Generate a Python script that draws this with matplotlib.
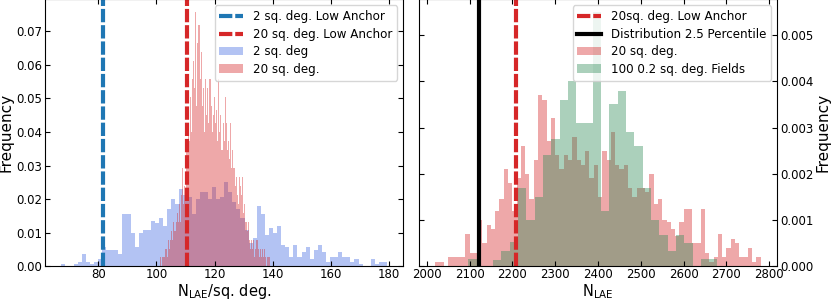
import numpy as np
import matplotlib
matplotlib.use("Agg")
import matplotlib.pyplot as plt

# ---- left panel: N_LAE per sq. deg. ----
# 2 sq. deg (80 bins over blue_range)
blue_range = (67.3, 179.3)
blue_freq = [0.0007, 0, 0, 0.0007, 0.0014, 0.0036, 0.0014, 0.0007, 0.0014, 0.0021,
             0.0057, 0.0050, 0.0050, 0.0050, 0.0036, 0.0157, 0.0157, 0.0100, 0.0057, 0.0100,
             0.0107, 0.0107, 0.0136, 0.0129, 0.0143, 0.0121, 0.0171, 0.0200, 0.0186, 0.0229,
             0.0214, 0.0207, 0.0157, 0.0200, 0.0221, 0.0221, 0.0200, 0.0236, 0.0200, 0.0207,
             0.0250, 0.0221, 0.0193, 0.0171, 0.0143, 0.0107, 0.0071, 0.0086, 0.0179, 0.0157,
             0.0093, 0.0114, 0.0100, 0.0121, 0.0064, 0.0057, 0.0029, 0.0064, 0.0029, 0.0043,
             0.0057, 0.0021, 0.0050, 0.0064, 0.0043, 0.0014, 0.0029, 0.0029, 0.0043, 0.0029,
             0.0029, 0.0014, 0.0021, 0.0007, 0, 0, 0.0021, 0.0007, 0.0014, 0.0014]
# 20 sq. deg. (100 bins over red_range)
red_range = (101.3, 138.9)
red_freq = [0.0027, 0, 0.0027, 0.0027, 0.0053, 0.0053, 0.0027, 0.0080, 0.0053, 0.0080,
            0.0106, 0.0080, 0.0133, 0.0106, 0.0133, 0.0160, 0.0133, 0.0186, 0.0133, 0.0213,
            0.0293, 0.0186, 0.0240, 0.0213, 0.0346, 0.0420, 0.0373, 0.0505, 0.0399, 0.0559,
            0.0612, 0.0532, 0.0758, 0.0479, 0.0665, 0.0718, 0.0559, 0.0639, 0.0479, 0.0532,
            0.0399, 0.0559, 0.0452, 0.0532, 0.0426, 0.0559, 0.0479, 0.0399, 0.0452, 0.0505,
            0.0426, 0.0465, 0.0372, 0.0559, 0.0399, 0.0452, 0.0346, 0.0426, 0.0372, 0.0505,
            0.0426, 0.0346, 0.0372, 0.0319, 0.0426, 0.0293, 0.0346, 0.0293, 0.0240, 0.0266,
            0.0213, 0.0186, 0.0266, 0.0240, 0.0213, 0.0266, 0.0160, 0.0186, 0.0133, 0.0106,
            0.0133, 0.0080, 0.0053, 0.0080, 0.0053, 0.0080, 0.0027, 0.0053, 0.0080, 0.0053,
            0.0027, 0.0053, 0.0027, 0.0053, 0.0027, 0.0053, 0.0027, 0, 0.0027, 0.0027]
anchor_2 = 81.5
anchor_20 = 110.5

# ---- right panel: total N_LAE ----
# 20 sq. deg. (76 bins)
tot_range = (2020, 2780)
tot_freq = [0.0001, 0.0001, 0, 0.0002, 0.0002, 0.0002, 0.0002, 0.0007, 0.0003, 0.0003,
            0.0010, 0.0005, 0.0009, 0.0008, 0.0012, 0.00145, 0.0021, 0.0018, 0.0012, 0.0019,
            0.0026, 0.0020, 0.00145, 0.0023, 0.0037, 0.0036, 0.0027, 0.0032, 0.0024, 0.0021,
            0.0024, 0.0023, 0.0028, 0.0023, 0.0022, 0.0025, 0.0019, 0.0022, 0.0015, 0.0025,
            0.0023, 0.0029, 0.0022, 0.0021, 0.0022, 0.0017, 0.0015, 0.0017, 0.0017, 0.0016,
            0.0020, 0.00135, 0.00145, 0.0010, 0.00095, 0.0008, 0.00065, 0.00095, 0.00125, 0.00125,
            0.0005, 0.0005, 0.00125, 0.0003, 0.0001, 0.0002, 0.0007, 0.0002, 0.0004, 0.0006,
            0.0005, 0.0002, 0.0002, 0.0004, 0.0001, 0.0002]
# 100 0.2 sq. deg. fields (30 bins)
fld_range = (2097, 2679)
fld_freq = [0.00017, 0, 0, 0.00014, 0.00034, 0.00052, 0.0017, 0.0010, 0.0015, 0.0024,
            0.00275, 0.0036, 0.0040, 0.0031, 0.0031, 0.0055, 0.0012, 0.0035, 0.0038, 0.0029,
            0.0026, 0.0017, 0.0010, 0.00068, 0.00034, 0.00068, 0.0005, 0, 0.00017, 0.00017]
anchor_tot = 2208
pct_2p5 = 2122


def draw_hist(ax, rng, freq, **kw):
    edges = np.linspace(rng[0], rng[1], len(freq) + 1)
    mids = 0.5 * (edges[1:] + edges[:-1])
    return ax.hist(mids, bins=edges, weights=freq, **kw)[2][0]


fig = plt.figure(figsize=(8.31, 3.0), dpi=100)
ax1 = fig.add_axes([0.0542, 0.112, 0.4308, 0.89])
ax2 = fig.add_axes([0.5042, 0.112, 0.4308, 0.89])

dash = (0, (3.2, 0.7))
leg_kw = dict(loc='upper right', fontsize=8.6, labelspacing=0.38)

# left
h_blue = draw_hist(ax1, blue_range, blue_freq, color='royalblue', alpha=0.4)
h_red = draw_hist(ax1, red_range, red_freq, color='tab:red', alpha=0.4)
l_blue = ax1.axvline(anchor_2, color='tab:blue', lw=3, ls=dash)
l_red = ax1.axvline(anchor_20, color='tab:red', lw=3, ls=dash)
ax1.legend([l_blue, l_red, h_blue, h_red],
           ['2 sq. deg. Low Anchor', '20 sq. deg. Low Anchor', '2 sq. deg', '20 sq. deg.'],
           **leg_kw)
ax1.set_xlim(61.7, 184.8)
ax1.set_ylim(0, 0.0795)
ax1.set_xlabel(r'$\mathrm{N_{LAE}}$/sq. deg.', fontsize=10.5, labelpad=0.5)
ax1.set_ylabel('Frequency', fontsize=11, labelpad=2)

# right
h_tot = draw_hist(ax2, tot_range, tot_freq, color='tab:red', alpha=0.4)
h_fld = draw_hist(ax2, fld_range, fld_freq, color='seagreen', alpha=0.4)
l_anc = ax2.axvline(anchor_tot, color='tab:red', lw=3, ls=dash)
l_pct = ax2.axvline(pct_2p5, color='k', lw=3)
ax2.legend([l_anc, l_pct, h_tot, h_fld],
           ['20sq. deg. Low Anchor', 'Distribution 2.5 Percentile', '20 sq. deg.',
            '100 0.2 sq. deg. Fields'],
           **leg_kw)
ax2.set_xlim(1982, 2818)
ax2.set_ylim(0, 0.00577)
ax2.set_xlabel(r'$\mathrm{N_{LAE}}$', fontsize=10.5, labelpad=0.5)
ax2.set_ylabel('Frequency', fontsize=11, labelpad=2)
ax2.yaxis.set_label_position('right')
ax2.yaxis.tick_right()

for ax in (ax1, ax2):
    ax.tick_params(direction='in', top=True, left=True, right=True, labelsize=8.5, pad=2)
    ax.tick_params(axis='x', pad=1.5)

fig.savefig('out.png', dpi=100)
